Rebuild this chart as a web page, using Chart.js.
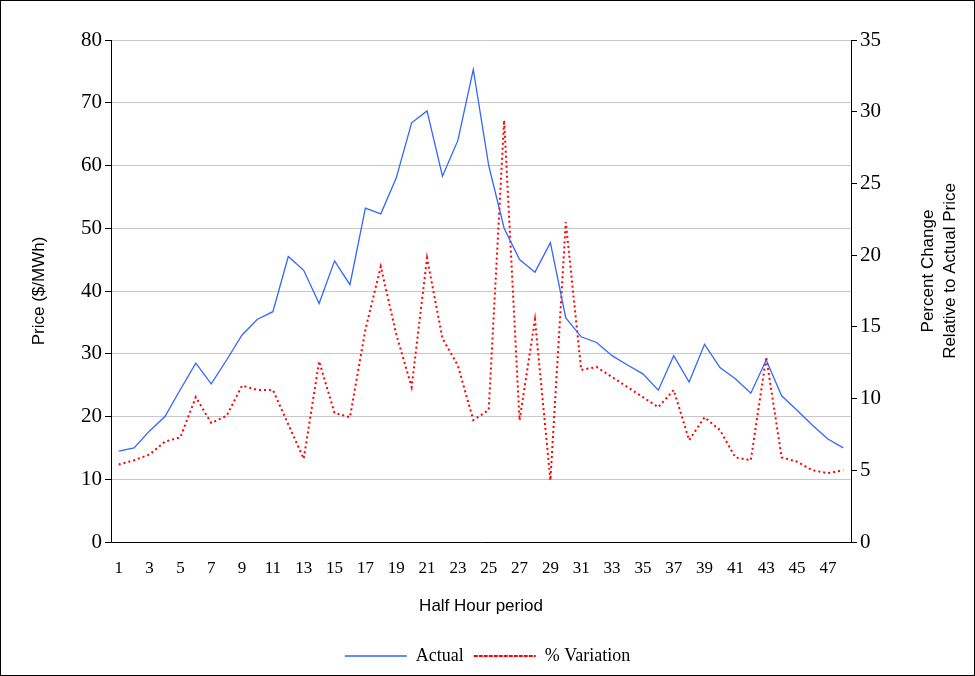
<!DOCTYPE html>
<html>
<head>
<meta charset="utf-8">
<script src="https://cdn.jsdelivr.net/npm/chart.js@4/dist/chart.umd.min.js"></script>
<style>
  body { margin: 0; background: #fff; }
  #wrap { width: 973px; height: 674px; border: 1px solid #000; position: relative; }
</style>
</head>
<body>
<div id="wrap"><canvas id="priceChart" width="973" height="674"></canvas></div>
<script>
// half hour periods
const periods = [];
for (let i = 1; i <= 48; i++) periods.push(String(i));

const actualPrice = [14.5, 15, 17.7, 20, 24.3, 28.5, 25.2, 29, 33, 35.5, 36.7, 45.5, 43.3, 38, 44.8, 41,
    53.2, 52.3, 58, 66.8, 68.7, 58.3, 64, 75.3, 60, 50, 45, 43, 47.7, 35.7, 32.7, 31.8,
    29.7, 28.2, 26.8, 24.2, 29.7, 25.5, 31.5, 27.8, 26, 23.7, 29, 23.3, 21, 18.6, 16.4, 15];

const pctVariation = [5.4, 5.7, 6.1, 7, 7.3, 10.1, 8.3, 8.8, 10.9, 10.6, 10.6, 8.2, 5.8, 12.6, 9.0, 8.7,
    14.8, 19.2, 14.5, 10.8, 19.8, 14.2, 12.3, 8.5, 9.2, 29.4, 8.5, 15.5, 4.3, 22.3, 12, 12.2,
    11.5, 10.8, 10.1, 9.4, 10.6, 7.1, 8.7, 7.8, 5.9, 5.7, 12.9, 5.9, 5.6, 5.0, 4.8, 5.0];

const rightTitle = ['Percent Change', 'Relative to Actual Price'];

const serif = '"Liberation Serif", "Times New Roman", serif';
const sans = '"Liberation Sans", Arial, sans-serif';

// right axis title reads bottom-to-top like the left one
const rightTitlePlugin = {
    id: 'rightTitle',
    afterDraw(chart) {
        const c = chart.ctx;
        const area = chart.chartArea;
        c.save();
        c.translate(938, (area.top + area.bottom) / 2 - 20);
        c.rotate(-Math.PI / 2);
        c.font = '17px ' + sans;
        c.fillStyle = '#000';
        c.textAlign = 'center';
        c.textBaseline = 'middle';
        c.fillText(rightTitle[0], 0, -11);
        c.fillText(rightTitle[1], 0, 11);
        c.restore();
    }
};

const ctx = document.getElementById('priceChart').getContext('2d');
const priceChart = new Chart(ctx, {
    type: 'line',
    data: {
        labels: periods,
        datasets: [{
            label: 'Actual',
            data: actualPrice,
            borderColor: '#3366ff',
            borderWidth: 1.3,
            pointRadius: 0,
            tension: 0,
            yAxisID: 'y'
        }, {
            label: '% Variation',
            data: pctVariation,
            borderColor: '#ff0000',
            borderWidth: 2,
            borderDash: [2, 3],
            pointRadius: 0,
            tension: 0,
            yAxisID: 'y1'
        }]
    },
    options: {
        responsive: false,
        animation: false,
        layout: { padding: { left: 0, right: 0, top: 39, bottom: 0 } },
        plugins: {
            legend: {
                position: 'bottom',
                labels: {
                    font: { family: serif, size: 18 },
                    color: '#000',
                    boxWidth: 62,
                    boxHeight: 0,
                    padding: 10
                }
            },
            tooltip: { enabled: false }
        },
        scales: {
            x: {
                offset: true,
                grid: { display: false },
                border: { color: '#000' },
                afterFit: function(scale) { scale.height = 95; },
                ticks: {
                    autoSkip: false,
                    maxRotation: 0,
                    padding: 8,
                    color: '#000',
                    font: { family: serif, size: 17 },
                    callback: function(value, index) { return index % 2 === 0 ? this.getLabelForValue(value) : ''; }
                },
                title: { display: true, text: 'Half Hour period', color: '#000', font: { family: sans, size: 17 }, padding: { top: 14, bottom: 20 } }
            },
            y: {
                position: 'left',
                min: 0, max: 80,
                afterFit: function(scale) { scale.width = 110; },
                ticks: { stepSize: 10, color: '#000', font: { family: serif, size: 21 } },
                grid: { color: '#c8c8c8', tickColor: '#000', tickLength: 6 },
                border: { color: '#000' },
                title: { display: true, text: 'Price ($/MWh)', color: '#000', font: { family: sans, size: 17 }, padding: { top: 28, bottom: 0 } }
            },
            y1: {
                position: 'right',
                min: 0, max: 35,
                afterFit: function(scale) { scale.width = 123; },
                ticks: { stepSize: 5, color: '#000', font: { family: serif, size: 21 } },
                grid: { drawOnChartArea: false, tickColor: '#000', tickLength: 6 },
                border: { color: '#000' }
            }
        }
    },
    plugins: [rightTitlePlugin]
});
</script>
</body>
</html>
